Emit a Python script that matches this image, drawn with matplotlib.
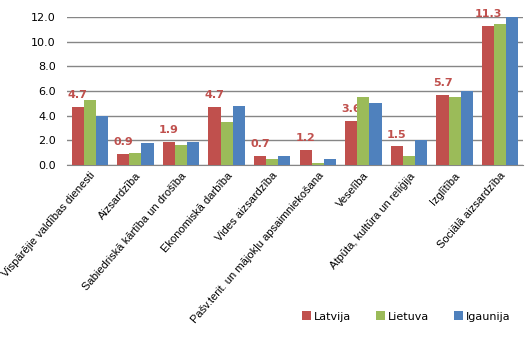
import matplotlib
matplotlib.use("Agg")
import matplotlib.pyplot as plt
import numpy as np

categories = ["Vispārējie valdības dienesti", "Aizsardzība", "Sabiedriskā kārtība un drošība",
              "Ekonomiskā darbība", "Vides aizsardzība", "Pašv.terit. un mājokļu apsaimniekošana",
              "Veselība", "Atpūta, kultūra un reliģija", "Izglītība", "Sociālā aizsardzība"]
latvija = [4.7, 0.9, 1.9, 4.7, 0.7, 1.2, 3.6, 1.5, 5.7, 11.3]
lietuva = [5.3, 1.0, 1.6, 3.5, 0.5, 0.2, 5.5, 0.7, 5.5, 11.4]
igaunija = [4.0, 1.8, 1.9, 4.8, 0.7, 0.5, 5.0, 2.0, 6.0, 12.0]
series_names = ["Latvija", "Lietuva", "Igaunija"]
yticks = [0, 2, 4, 6, 8, 10, 12]

colors = ["#C0504D", "#9BBB59", "#4F81BD"]

fig = plt.figure(figsize=(5.26, 3.49), dpi=100)
ax = fig.add_axes([67/526, 1 - 165/349, 456/526, 148/349])

x = np.arange(len(categories))
w = 0.265
for i, (vals, name) in enumerate(zip([latvija, lietuva, igaunija], series_names)):
    bars = ax.bar(x + (i - 1) * w, vals, w, color=colors[i], label=name, zorder=3)
    if i == 0:
        for b, v in zip(bars, vals):
            ax.annotate(f"{v:.1f}", (b.get_x() + b.get_width() / 2, v), xytext=(0, 5),
                        textcoords="offset points", ha="center", va="bottom",
                        color="#C0504D", fontweight="bold", fontsize=8, clip_on=False)

ax.set_xlim(-0.5, len(categories) - 0.5)
ax.set_ylim(0, 12)
ax.set_yticks(yticks)
ax.set_yticklabels([f"{t:.1f}" for t in yticks], fontsize=8)
ax.yaxis.grid(True, color="#868686", linewidth=1, zorder=0)
ax.set_axisbelow(True)
for s in ["top", "right", "left"]:
    ax.spines[s].set_visible(False)
ax.spines["bottom"].set_color("#868686")
ax.tick_params(axis="y", length=0, pad=8)
ax.tick_params(axis="x", length=0, pad=4)
ax.set_xticks(x)
ax.set_xticklabels(categories, rotation=49, ha="right", rotation_mode="anchor",
                   fontsize=8, family="Liberation Sans")

fig.legend(loc="lower right", bbox_to_anchor=(0.99, 0.05), ncol=3, frameon=False, fontsize=8,
           handlelength=0.8, handleheight=0.8, handletextpad=0.3, columnspacing=2.2)

fig.savefig("out.png", dpi=100)
